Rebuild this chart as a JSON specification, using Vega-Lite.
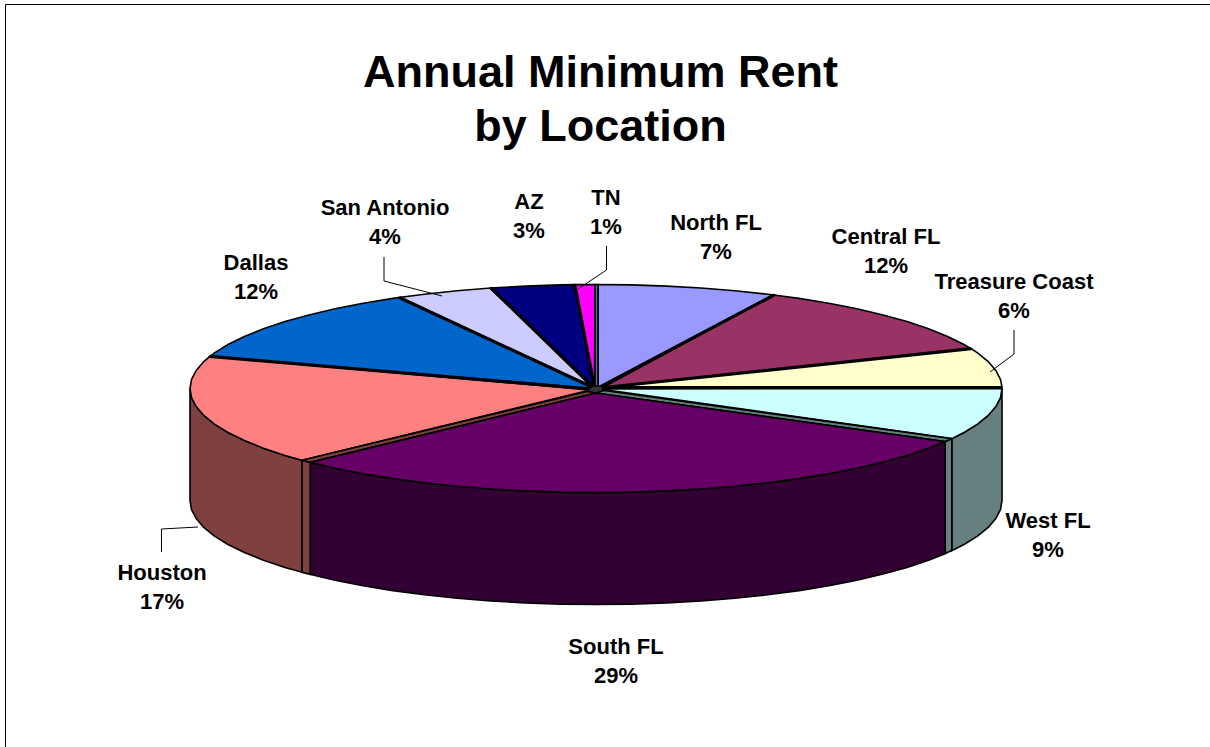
{"$schema":"https://vega.github.io/schema/vega-lite/v6.json","width":1210,"height":747,"autosize":"none","padding":0,"background":"white","config":{"view":{"stroke":null}},
"datasets":{
"faces":[
{"s":"Houston side","x":190,"y":388.5},{"s":"Houston side","x":191.5,"y":397.6},{"s":"Houston side","x":196.2,"y":406.6},{"s":"Houston side","x":203.8,"y":415.4},{"s":"Houston side","x":214.5,"y":424.1},{"s":"Houston side","x":228,"y":432.5},{"s":"Houston side","x":244.4,"y":440.5},{"s":"Houston side","x":263.4,"y":448.2},{"s":"Houston side","x":285,"y":455.4},{"s":"Houston side","x":302,"y":460.3},{"s":"Houston side","x":302,"y":572.3},{"s":"Houston side","x":285,"y":567.4},{"s":"Houston side","x":263.4,"y":560.2},{"s":"Houston side","x":244.4,"y":552.5},{"s":"Houston side","x":228,"y":544.5},{"s":"Houston side","x":214.5,"y":536.1},{"s":"Houston side","x":203.8,"y":527.4},{"s":"Houston side","x":196.2,"y":518.6},{"s":"Houston side","x":191.5,"y":509.6},{"s":"Houston side","x":190,"y":500.5},{"s":"Houston side","x":190,"y":388.5},
{"s":"Houston cut","x":302,"y":460.3},{"s":"Houston cut","x":310.4,"y":462.4},{"s":"Houston cut","x":310.4,"y":574.4},{"s":"Houston cut","x":302,"y":572.3},{"s":"Houston cut","x":302,"y":460.3},
{"s":"West side","x":951.8,"y":438.6},{"s":"West side","x":964,"y":432.5},{"s":"West side","x":977.5,"y":424.1},{"s":"West side","x":988.2,"y":415.4},{"s":"West side","x":995.8,"y":406.6},{"s":"West side","x":1000.5,"y":397.6},{"s":"West side","x":1002,"y":388.5},{"s":"West side","x":1002,"y":500.5},{"s":"West side","x":1000.5,"y":509.6},{"s":"West side","x":995.8,"y":518.6},{"s":"West side","x":988.2,"y":527.4},{"s":"West side","x":977.5,"y":536.1},{"s":"West side","x":964,"y":544.5},{"s":"West side","x":951.8,"y":550.6},{"s":"West side","x":951.8,"y":438.6},
{"s":"West cut","x":945.2,"y":441.6},{"s":"West cut","x":951.8,"y":438.6},{"s":"West cut","x":951.8,"y":550.6},{"s":"West cut","x":945.2,"y":553.6},{"s":"West cut","x":945.2,"y":441.6},
{"s":"South side","x":310.4,"y":462.4},{"s":"South side","x":335,"y":468.2},{"s":"South side","x":363.1,"y":473.7},{"s":"South side","x":393,"y":478.6},{"s":"South side","x":424.4,"y":482.8},{"s":"South side","x":457.1,"y":486.2},{"s":"South side","x":490.9,"y":489},{"s":"South side","x":525.5,"y":490.9},{"s":"South side","x":560.6,"y":492.1},{"s":"South side","x":596,"y":492.5},{"s":"South side","x":631.4,"y":492.1},{"s":"South side","x":666.5,"y":490.9},{"s":"South side","x":701.1,"y":489},{"s":"South side","x":734.9,"y":486.2},{"s":"South side","x":767.6,"y":482.8},{"s":"South side","x":799,"y":478.6},{"s":"South side","x":828.9,"y":473.7},{"s":"South side","x":857,"y":468.2},{"s":"South side","x":883.1,"y":462},{"s":"South side","x":907,"y":455.4},{"s":"South side","x":928.6,"y":448.2},{"s":"South side","x":945.2,"y":441.6},{"s":"South side","x":945.2,"y":553.6},{"s":"South side","x":928.6,"y":560.2},{"s":"South side","x":907,"y":567.4},{"s":"South side","x":883.1,"y":574},{"s":"South side","x":857,"y":580.2},{"s":"South side","x":828.9,"y":585.7},{"s":"South side","x":799,"y":590.6},{"s":"South side","x":767.6,"y":594.8},{"s":"South side","x":734.9,"y":598.2},{"s":"South side","x":701.1,"y":601},{"s":"South side","x":666.5,"y":602.9},{"s":"South side","x":631.4,"y":604.1},{"s":"South side","x":596,"y":604.5},{"s":"South side","x":560.6,"y":604.1},{"s":"South side","x":525.5,"y":602.9},{"s":"South side","x":490.9,"y":601},{"s":"South side","x":457.1,"y":598.2},{"s":"South side","x":424.4,"y":594.8},{"s":"South side","x":393,"y":590.6},{"s":"South side","x":363.1,"y":585.7},{"s":"South side","x":335,"y":580.2},{"s":"South side","x":310.4,"y":574.4},{"s":"South side","x":310.4,"y":462.4},
{"s":"North FL","x":598,"y":388},{"s":"North FL","x":598,"y":284.5},{"s":"North FL","x":631.4,"y":284.9},{"s":"North FL","x":666.5,"y":286.1},{"s":"North FL","x":701.1,"y":288},{"s":"North FL","x":734.9,"y":290.8},{"s":"North FL","x":767.6,"y":294.2},{"s":"North FL","x":774,"y":295},{"s":"North FL","x":598,"y":388},
{"s":"Central FL","x":600,"y":389},{"s":"Central FL","x":774,"y":295},{"s":"Central FL","x":799,"y":298.4},{"s":"Central FL","x":828.9,"y":303.3},{"s":"Central FL","x":857,"y":308.8},{"s":"Central FL","x":883.1,"y":315},{"s":"Central FL","x":907,"y":321.6},{"s":"Central FL","x":928.6,"y":328.8},{"s":"Central FL","x":947.6,"y":336.5},{"s":"Central FL","x":964,"y":344.5},{"s":"Central FL","x":971.1,"y":348.7},{"s":"Central FL","x":600,"y":389},
{"s":"Treasure Coast","x":600,"y":388},{"s":"Treasure Coast","x":971.1,"y":348.7},{"s":"Treasure Coast","x":977.5,"y":352.9},{"s":"Treasure Coast","x":988.2,"y":361.6},{"s":"Treasure Coast","x":995.8,"y":370.4},{"s":"Treasure Coast","x":1000.5,"y":379.4},{"s":"Treasure Coast","x":1002,"y":387},{"s":"Treasure Coast","x":600,"y":388},
{"s":"West FL","x":600,"y":389},{"s":"West FL","x":1002,"y":388.5},{"s":"West FL","x":1000.5,"y":397.6},{"s":"West FL","x":995.8,"y":406.6},{"s":"West FL","x":988.2,"y":415.4},{"s":"West FL","x":977.5,"y":424.1},{"s":"West FL","x":964,"y":432.5},{"s":"West FL","x":951.8,"y":438.6},{"s":"West FL","x":600,"y":389},
{"s":"Houston","x":590,"y":390},{"s":"Houston","x":209.9,"y":356.4},{"s":"Houston","x":203.8,"y":361.6},{"s":"Houston","x":196.2,"y":370.4},{"s":"Houston","x":191.5,"y":379.4},{"s":"Houston","x":190,"y":388.5},{"s":"Houston","x":191.5,"y":397.6},{"s":"Houston","x":196.2,"y":406.6},{"s":"Houston","x":203.8,"y":415.4},{"s":"Houston","x":214.5,"y":424.1},{"s":"Houston","x":228,"y":432.5},{"s":"Houston","x":244.4,"y":440.5},{"s":"Houston","x":263.4,"y":448.2},{"s":"Houston","x":285,"y":455.4},{"s":"Houston","x":302,"y":460.3},{"s":"Houston","x":590,"y":390},
{"s":"Dallas","x":594,"y":388.5},{"s":"Dallas","x":399.2,"y":297.5},{"s":"Dallas","x":393,"y":298.4},{"s":"Dallas","x":363.1,"y":303.3},{"s":"Dallas","x":335,"y":308.8},{"s":"Dallas","x":308.9,"y":315},{"s":"Dallas","x":285,"y":321.6},{"s":"Dallas","x":263.4,"y":328.8},{"s":"Dallas","x":244.4,"y":336.5},{"s":"Dallas","x":228,"y":344.5},{"s":"Dallas","x":214.5,"y":352.9},{"s":"Dallas","x":209.9,"y":356.4},{"s":"Dallas","x":594,"y":388.5},
{"s":"San Antonio","x":594,"y":388.5},{"s":"San Antonio","x":490.9,"y":288},{"s":"San Antonio","x":457.1,"y":290.8},{"s":"San Antonio","x":424.4,"y":294.2},{"s":"San Antonio","x":399.2,"y":297.5},{"s":"San Antonio","x":594,"y":388.5},
{"s":"AZ","x":594,"y":388.5},{"s":"AZ","x":574.8,"y":284.6},{"s":"AZ","x":560.6,"y":284.9},{"s":"AZ","x":525.5,"y":286.1},{"s":"AZ","x":490.9,"y":288},{"s":"AZ","x":594,"y":388.5},
{"s":"TN","x":594.5,"y":388.5},{"s":"TN","x":595,"y":284.5},{"s":"TN","x":574.8,"y":284.6},{"s":"TN","x":594.5,"y":388.5},
{"s":"TN cut","x":595,"y":388},{"s":"TN cut","x":595,"y":284.5},{"s":"TN cut","x":598,"y":284.5},{"s":"TN cut","x":598,"y":388},{"s":"TN cut","x":595,"y":388},
{"s":"Hub","x":590,"y":386},{"s":"Hub","x":602,"y":386},{"s":"Hub","x":604,"y":391},{"s":"Hub","x":596,"y":394},{"s":"Hub","x":587,"y":391},{"s":"Hub","x":590,"y":386},
{"s":"Houston strip","x":587,"y":391.5},{"s":"Houston strip","x":302,"y":460.3},{"s":"Houston strip","x":310.4,"y":462.4},{"s":"Houston strip","x":596,"y":393},{"s":"Houston strip","x":587,"y":391.5},
{"s":"West strip","x":604,"y":390.5},{"s":"West strip","x":951.8,"y":438.6},{"s":"West strip","x":945.2,"y":441.6},{"s":"West strip","x":596,"y":393},{"s":"West strip","x":604,"y":390.5},
{"s":"South FL","x":596,"y":393},{"s":"South FL","x":310.4,"y":462.4},{"s":"South FL","x":335,"y":468.2},{"s":"South FL","x":363.1,"y":473.7},{"s":"South FL","x":393,"y":478.6},{"s":"South FL","x":424.4,"y":482.8},{"s":"South FL","x":457.1,"y":486.2},{"s":"South FL","x":490.9,"y":489},{"s":"South FL","x":525.5,"y":490.9},{"s":"South FL","x":560.6,"y":492.1},{"s":"South FL","x":596,"y":492.5},{"s":"South FL","x":631.4,"y":492.1},{"s":"South FL","x":666.5,"y":490.9},{"s":"South FL","x":701.1,"y":489},{"s":"South FL","x":734.9,"y":486.2},{"s":"South FL","x":767.6,"y":482.8},{"s":"South FL","x":799,"y":478.6},{"s":"South FL","x":828.9,"y":473.7},{"s":"South FL","x":857,"y":468.2},{"s":"South FL","x":883.1,"y":462},{"s":"South FL","x":907,"y":455.4},{"s":"South FL","x":928.6,"y":448.2},{"s":"South FL","x":945.2,"y":441.6},{"s":"South FL","x":596,"y":393}
],
"seps":[
{"k":"a","x":590,"y":389},{"k":"a","x":209.9,"y":356.4},
{"k":"b","x":592,"y":387},{"k":"b","x":399.2,"y":297.5},
{"k":"c","x":592,"y":386},{"k":"c","x":490.9,"y":288},
{"k":"d","x":594,"y":385},{"k":"d","x":574.8,"y":284.6},
{"k":"e","x":601,"y":386.5},{"k":"e","x":774,"y":295},
{"k":"f","x":604,"y":387.5},{"k":"f","x":971.1,"y":348.7},
{"k":"g","x":604,"y":387.5},{"k":"g","x":1002,"y":387.5}
],
"leaders":[
{"k":"Frame","x":5.5,"y":747},{"k":"Frame","x":5.5,"y":4.5},{"k":"Frame","x":1210,"y":4.5},
{"k":"Treasure","x":1014,"y":330},{"k":"Treasure","x":1014,"y":354},{"k":"Treasure","x":990,"y":372},
{"k":"TN","x":606.5,"y":246},{"k":"TN","x":606.5,"y":270},{"k":"TN","x":578,"y":289},
{"k":"SA","x":384,"y":257},{"k":"SA","x":384,"y":281},{"k":"SA","x":442,"y":296},
{"k":"Houston","x":161.5,"y":552},{"k":"Houston","x":161.5,"y":529},{"k":"Houston","x":198,"y":527}
],
"labels":[
{"t":"North FL\n7%","x":716,"y":223},{"t":"Central FL\n12%","x":886,"y":237},{"t":"Treasure Coast\n6%","x":1014,"y":282},{"t":"West FL\n9%","x":1048,"y":521},{"t":"South FL\n29%","x":616,"y":647},{"t":"Houston\n17%","x":162,"y":573},{"t":"Dallas\n12%","x":256,"y":263},{"t":"San Antonio\n4%","x":385,"y":208},{"t":"AZ\n3%","x":529,"y":202},{"t":"TN\n1%","x":606,"y":198}
],
"heading":[{"t":"Annual Minimum Rent\nby Location","x":600.5,"y":73}]
},
"layer":[
{"data":{"name":"faces"},"mark":{"type":"line","filled":true,"stroke":"black","strokeWidth":1.6,"strokeJoin":"miter","interpolate":"linear","clip":true},
"encoding":{"x":{"field":"x","type":"quantitative","scale":{"domain":[0,1210],"nice":false,"zero":false},"axis":null},"y":{"field":"y","type":"quantitative","scale":{"domain":[747,0],"nice":false,"zero":false},"axis":null},"order":{"value":null},
"color":{"field":"s","type":"nominal","legend":null,"scale":{"domain":["Houston side","Houston cut","West side","West cut","South side","North FL","Central FL","Treasure Coast","West FL","Houston","Dallas","San Antonio","AZ","TN","TN cut","Hub","Houston strip","West strip","South FL"],"range":["#804040","#804040","#668080","#668080","#330033","#9999FF","#993366","#FFFFCC","#CCFFFF","#FF8080","#0066CC","#CCCCFF","#000080","#FF00FF","#666699","#333333","#804040","#668080","#660066"]}}}},
{"data":{"name":"seps"},"mark":{"type":"line","color":"black","strokeWidth":3.2},
"encoding":{"x":{"field":"x","type":"quantitative","axis":null},"y":{"field":"y","type":"quantitative","axis":null},"detail":{"field":"k"},"order":{"value":null}}},
{"data":{"name":"leaders"},"mark":{"type":"line","color":"black","strokeWidth":1},
"encoding":{"x":{"field":"x","type":"quantitative","axis":null},"y":{"field":"y","type":"quantitative","axis":null},"detail":{"field":"k"},"order":{"value":null}}},
{"data":{"name":"labels"},"mark":{"type":"text","font":"Liberation Sans","fontWeight":"bold","fontSize":22,"lineHeight":29,"lineBreak":"\n","align":"center","baseline":"middle","color":"black"},
"encoding":{"x":{"field":"x","type":"quantitative","axis":null},"y":{"field":"y","type":"quantitative","axis":null},"text":{"field":"t"}}},
{"data":{"name":"heading"},"mark":{"type":"text","font":"Liberation Sans","fontWeight":"bold","fontSize":45,"lineHeight":54,"lineBreak":"\n","align":"center","baseline":"middle","color":"black"},
"encoding":{"x":{"field":"x","type":"quantitative","axis":null},"y":{"field":"y","type":"quantitative","axis":null},"text":{"field":"t"}}}
]}
